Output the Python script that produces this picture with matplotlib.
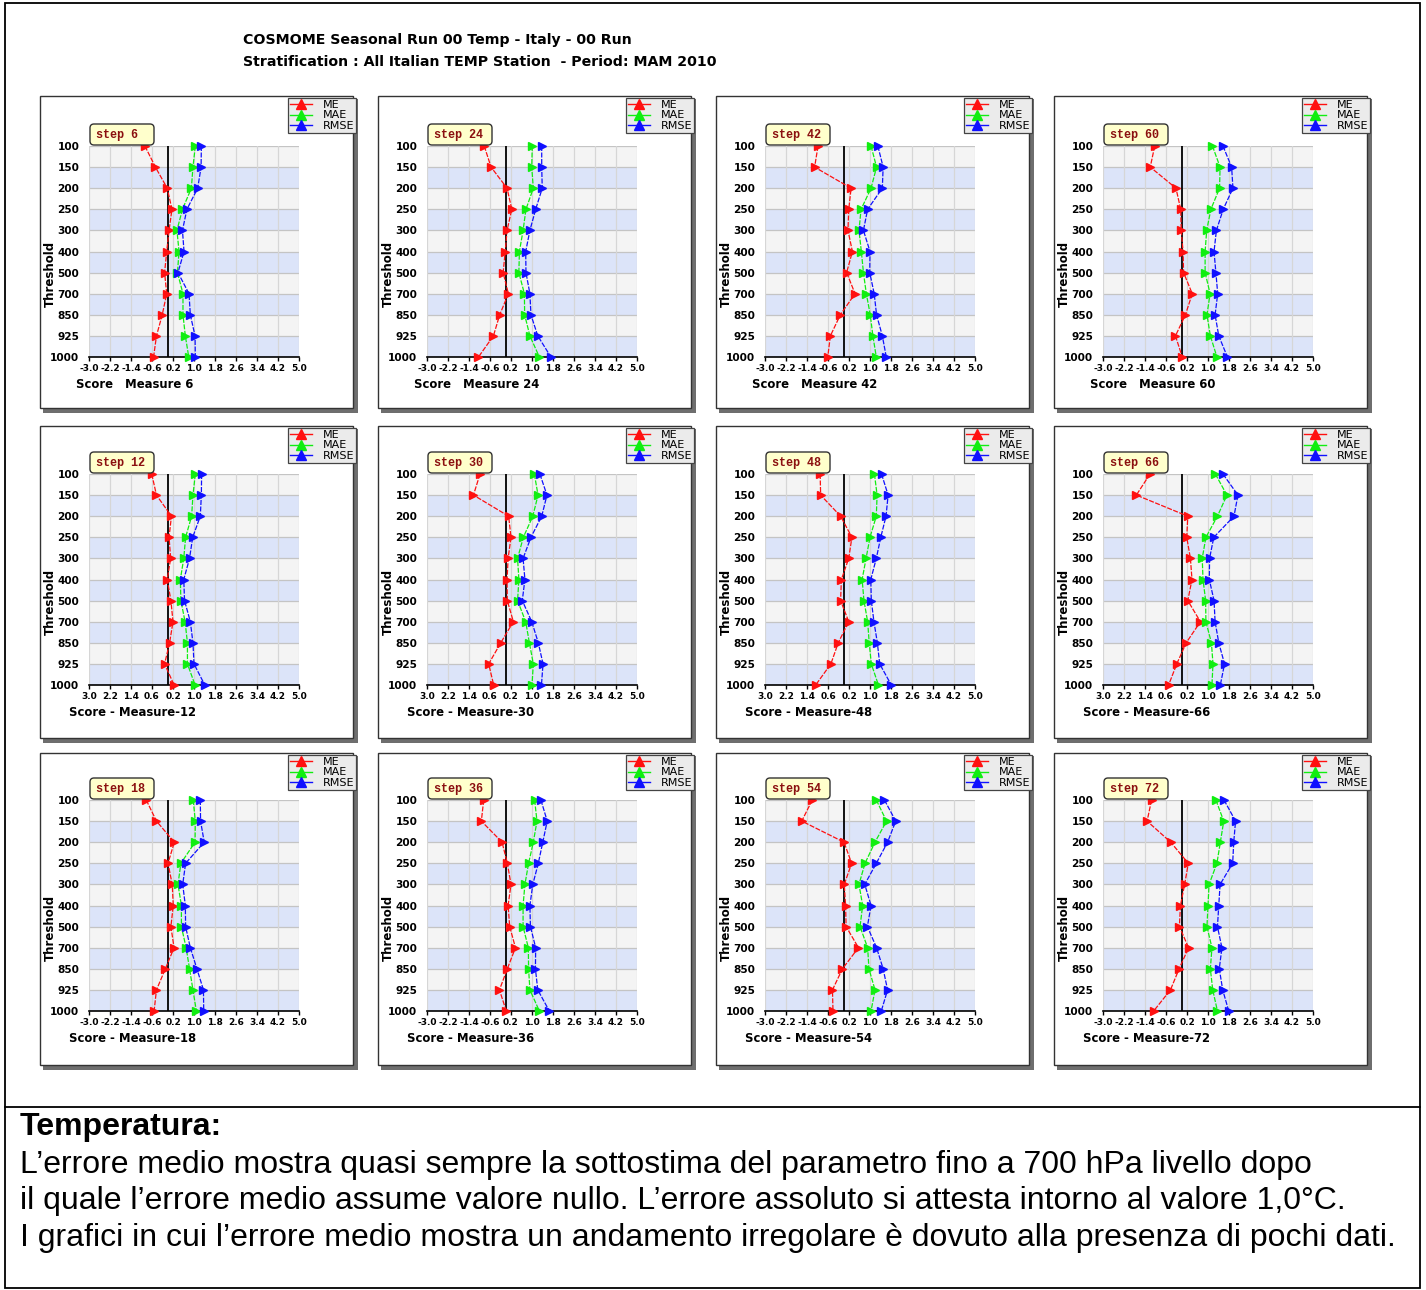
import matplotlib
matplotlib.use('Agg')
import matplotlib.pyplot as plt
from matplotlib.patches import Rectangle, FancyBboxPatch
from matplotlib.lines import Line2D

W, H = 1426, 1290

# ---------------- data ----------------
levels = ['100', '150', '200', '250', '300', '400', '500', '700', '850', '925', '1000']
xticks = [-3.0, -2.2, -1.4, -0.6, 0.2, 1.0, 1.8, 2.6, 3.4, 4.2, 5.0]
xtick_labels = ['-3.0', '-2.2', '-1.4', '-0.6', '0.2', '1.0', '1.8', '2.6', '3.4', '4.2', '5.0']
series_names = ['ME', 'MAE', 'RMSE']

me_s06 = [-0.87, -0.47, -0.02, 0.16, 0.05, -0.04, -0.12, -0.04, -0.21, -0.43, -0.54]
mae_s06 = [1.05, 0.96, 0.90, 0.56, 0.35, 0.43, 0.37, 0.58, 0.58, 0.67, 0.80]
rmse_s06 = [1.28, 1.27, 1.14, 0.73, 0.56, 0.62, 0.39, 0.81, 0.86, 1.04, 1.05]

me_s24 = [-0.82, -0.56, 0.05, 0.23, 0.05, -0.02, -0.10, 0.10, -0.23, -0.47, -1.04]
mae_s24 = [1.01, 0.99, 1.05, 0.77, 0.66, 0.52, 0.50, 0.71, 0.72, 0.92, 1.28]
rmse_s24 = [1.37, 1.37, 1.39, 1.14, 0.92, 0.76, 0.77, 0.92, 0.96, 1.22, 1.72]

me_s42 = [-0.98, -1.11, 0.28, 0.19, 0.16, 0.33, 0.11, 0.43, -0.13, -0.51, -0.61]
mae_s42 = [1.04, 1.25, 1.04, 0.66, 0.58, 0.67, 0.75, 0.86, 1.01, 1.11, 1.24]
rmse_s42 = [1.30, 1.50, 1.47, 0.91, 0.75, 1.00, 0.99, 1.16, 1.25, 1.47, 1.62]

me_s60 = [-1.03, -1.20, -0.22, -0.04, -0.02, 0.05, 0.07, 0.40, 0.14, -0.24, 0.02]
mae_s60 = [1.17, 1.46, 1.44, 1.11, 0.95, 0.89, 0.89, 1.08, 0.96, 1.09, 1.34]
rmse_s60 = [1.57, 1.90, 1.95, 1.58, 1.32, 1.23, 1.30, 1.37, 1.27, 1.41, 1.74]

me_s12 = [-0.61, -0.43, 0.14, 0.05, 0.11, -0.02, 0.12, 0.20, 0.07, -0.12, 0.24]
mae_s12 = [1.05, 0.96, 0.91, 0.68, 0.61, 0.48, 0.50, 0.66, 0.75, 0.75, 1.04]
rmse_s12 = [1.29, 1.28, 1.24, 0.95, 0.83, 0.61, 0.64, 0.86, 0.96, 1.00, 1.41]

me_s30 = [-0.98, -1.23, 0.11, 0.20, 0.09, 0.05, 0.06, 0.29, -0.19, -0.65, -0.46]
mae_s30 = [1.09, 1.23, 1.03, 0.67, 0.45, 0.50, 0.45, 0.76, 0.90, 1.05, 1.00]
rmse_s30 = [1.30, 1.57, 1.37, 0.96, 0.66, 0.73, 0.63, 0.99, 1.24, 1.42, 1.36]

me_s48 = [-0.90, -0.88, -0.12, 0.31, 0.19, -0.09, -0.12, 0.19, -0.21, -0.49, -1.07]
mae_s48 = [1.17, 1.27, 1.24, 1.00, 0.85, 0.70, 0.77, 0.91, 0.97, 1.05, 1.32]
rmse_s48 = [1.44, 1.69, 1.61, 1.41, 1.24, 1.03, 1.05, 1.15, 1.28, 1.37, 1.81]

me_s66 = [-1.21, -1.73, 0.23, 0.19, 0.33, 0.39, 0.23, 0.71, 0.17, -0.19, -0.50]
mae_s66 = [1.28, 1.72, 1.36, 0.92, 0.78, 0.81, 0.91, 0.92, 1.13, 1.19, 1.15]
rmse_s66 = [1.57, 2.14, 1.99, 1.22, 1.06, 1.05, 1.23, 1.27, 1.41, 1.63, 1.47]

me_s18 = [-0.82, -0.43, 0.25, 0.01, 0.17, 0.21, 0.12, 0.24, -0.09, -0.43, -0.52]
mae_s18 = [0.97, 1.05, 1.04, 0.50, 0.39, 0.52, 0.52, 0.70, 0.83, 0.96, 1.09]
rmse_s18 = [1.24, 1.25, 1.39, 0.68, 0.57, 0.67, 0.68, 0.86, 1.11, 1.36, 1.37]

me_s36 = [-0.84, -0.93, -0.14, 0.06, 0.20, 0.09, 0.15, 0.37, 0.06, -0.24, 0.02]
mae_s36 = [1.10, 1.19, 1.05, 0.87, 0.73, 0.66, 0.66, 0.86, 0.87, 0.92, 1.28]
rmse_s36 = [1.34, 1.58, 1.41, 1.24, 1.03, 0.92, 0.94, 1.14, 1.13, 1.22, 1.66]

me_s54 = [-1.20, -1.60, 0.01, 0.30, 0.02, 0.07, 0.09, 0.56, -0.05, -0.43, -0.41]
mae_s54 = [1.24, 1.63, 1.19, 0.81, 0.58, 0.72, 0.62, 0.91, 0.96, 1.19, 1.04]
rmse_s54 = [1.55, 1.98, 1.67, 1.24, 0.80, 1.04, 0.90, 1.25, 1.50, 1.67, 1.43]

me_s72 = [-1.15, -1.32, -0.42, 0.25, 0.11, -0.05, -0.09, 0.26, -0.10, -0.43, -1.07]
mae_s72 = [1.30, 1.60, 1.47, 1.34, 1.04, 1.00, 0.96, 1.15, 1.09, 1.18, 1.36]
rmse_s72 = [1.61, 2.05, 1.98, 1.94, 1.46, 1.41, 1.36, 1.53, 1.43, 1.56, 1.79]

steps_grid = [[6, 24, 42, 60], [12, 30, 48, 66], [18, 36, 54, 72]]
panel_data = {
    6: (me_s06, mae_s06, rmse_s06), 24: (me_s24, mae_s24, rmse_s24),
    42: (me_s42, mae_s42, rmse_s42), 60: (me_s60, mae_s60, rmse_s60),
    12: (me_s12, mae_s12, rmse_s12), 30: (me_s30, mae_s30, rmse_s30),
    48: (me_s48, mae_s48, rmse_s48), 66: (me_s66, mae_s66, rmse_s66),
    18: (me_s18, mae_s18, rmse_s18), 36: (me_s36, mae_s36, rmse_s36),
    54: (me_s54, mae_s54, rmse_s54), 72: (me_s72, mae_s72, rmse_s72),
}

title_lines = ['COSMOME Seasonal Run 00 Temp - Italy - 00 Run',
               'Stratification : All Italian TEMP Station  - Period: MAM 2010']
note_title = 'Temperatura:'
note_lines = [
    'L\u2019errore medio mostra quasi sempre la sottostima del parametro fino a 700 hPa livello dopo',
    'il quale l\u2019errore medio assume valore nullo. L\u2019errore assoluto si attesta intorno al valore 1,0\u00b0C.',
    'I grafici in cui l\u2019errore medio mostra un andamento irregolare \u00e8 dovuto alla presenza di pochi dati.',
]

# ---------------- layout / style ----------------
colors = ['#ff1010', '#10ee10', '#1010ff']
col_left = [40, 378, 716, 1054]
row_top = [96, 426, 753]
plot_top = [146, 474, 800]
PW, PH = 210, 211

fig = plt.figure(figsize=(W / 100, H / 100), dpi=100)

bg = fig.add_axes([0, 0, 1, 1], zorder=0, label='bg')
bg.set_xlim(0, W); bg.set_ylim(H, 0); bg.axis('off')
fg = fig.add_axes([0, 0, 1, 1], zorder=20, label='fg')
fg.set_xlim(0, W); fg.set_ylim(H, 0); fg.axis('off'); fg.patch.set_alpha(0)

# outer frame
bg.add_patch(Rectangle((5, 3), 1415, 1285, fc='none', ec='black', lw=1.3))
bg.plot([5, 1420], [1107, 1107], color='black', lw=1.3)

# title
for i, t in enumerate(title_lines):
    bg.text(243, 40 + 22 * i, t, ha='left', va='center', fontsize=10.2,
            fontweight='bold', family='DejaVu Sans')

# notes
bg.text(20, 1127, note_title, ha='left', va='center', fontsize=23,
        fontweight='bold', family='Liberation Sans')
for i, t in enumerate(note_lines):
    bg.text(20, 1165 + 36.5 * i, t, ha='left', va='center', fontsize=23,
            family='Liberation Sans')

for r in range(3):
    for c in range(4):
        step = steps_grid[r][c]
        cl = col_left[c]
        rt = row_top[r]
        pt = plot_top[r]
        # panel box with shadow
        bg.add_patch(Rectangle((cl + 3, rt + 3), 315, 314, fc='#6e6e6e', ec='none'))
        bg.add_patch(Rectangle((cl, rt), 313, 312, fc='white', ec='#333333', lw=1))

        x0 = cl + 49
        ax = fig.add_axes([x0 / W, 1 - (pt + PH) / H, PW / W, PH / H], zorder=5)
        ax.set_xlim(-3.0, 5.0)
        ax.set_ylim(10, 0)
        for i in range(10):
            ax.axhspan(i, i + 1, color='#f4f4f4' if i % 2 == 0 else '#dce4f9', lw=0, zorder=0)
        for i in range(11):
            ax.axhline(i, color='#c4c4c4', lw=0.9, zorder=1)
        for xv in xticks:
            ax.axvline(xv, color='#d6d6d6', lw=0.9, zorder=1)
        ax.axvline(0, color='black', lw=1.3, zorder=2)

        ypos = list(range(len(levels)))
        for vals, col in zip(panel_data[step], colors):
            ax.plot(vals, ypos, color=col, lw=0.9, ls=(0, (4, 1.2)), marker='>',
                    ms=5.5, mfc=col, mec=col, zorder=3, clip_on=False)

        ax.set_yticks(ypos)
        ax.set_yticklabels(levels, fontsize=7.6, fontweight='bold')
        ax.set_xticks(xticks)
        if r == 1:
            labs = [l.lstrip('-') for l in xtick_labels]
        else:
            labs = xtick_labels
        ax.set_xticklabels(labs, fontsize=6.5, fontweight='bold')
        ax.tick_params(axis='y', length=0, pad=7)
        ax.tick_params(axis='x', length=3, width=1, pad=2, color='black')
        for s in ['top', 'right', 'left']:
            ax.spines[s].set_visible(False)
        ax.spines['bottom'].set_color('black')
        ax.spines['bottom'].set_linewidth(1.2)

        handles = [Line2D([0], [0], color=col, lw=1, marker='^', ms=7) for col in colors]
        leg = ax.legend(handles, series_names, loc='upper left',
                        bbox_to_anchor=((cl + 248) / W, 1 - (rt + 2) / H),
                        bbox_transform=fig.transFigure, fontsize=8, frameon=True,
                        fancybox=False, edgecolor='#444444', facecolor='#ebebeb',
                        framealpha=1, borderpad=0.2, labelspacing=0.02,
                        handlelength=2.0, handletextpad=0.9, borderaxespad=0)
        leg.get_frame().set_linewidth(0.9)

        # step label
        fg.add_patch(FancyBboxPatch((x0 + 1, pt - 22), 64, 21,
                                    boxstyle='round,pad=0,rounding_size=4',
                                    fc='#ffffcc', ec='#333333', lw=1))
        fg.text(x0 + 7, pt - 11, f'step {step}', ha='left', va='center', fontsize=8.5,
                fontweight='bold', family='Liberation Mono', color='#8b1010')

        # axis labels
        fg.text(cl + 10, pt + 128, 'Threshold', rotation=90, ha='center', va='center',
                fontsize=8.5, fontweight='bold', family='DejaVu Sans')
        if r == 0:
            xl = f'Score   Measure {step}'
            xlx = cl + 36
        else:
            xl = f'Score - Measure-{step}'
            xlx = cl + 29
        fg.text(xlx, pt + 239, xl, ha='left', va='center', fontsize=8.4,
                family='DejaVu Sans', fontweight='bold')

fig.savefig('out.png', dpi=100)
